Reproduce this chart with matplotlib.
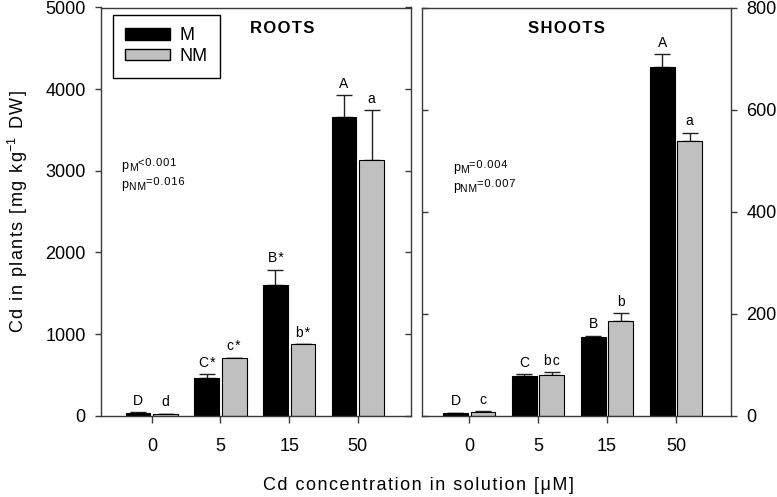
import matplotlib
matplotlib.use("Agg")
import matplotlib.pyplot as plt
import numpy as np
from matplotlib.patches import Patch

plt.rcParams['font.family'] = ['Liberation Sans', 'DejaVu Sans']
plt.rcParams['mathtext.fontset'] = 'custom'
plt.rcParams['mathtext.rm'] = 'Liberation Sans'
plt.rcParams['mathtext.it'] = 'Liberation Sans:italic'
plt.rcParams['mathtext.bf'] = 'Liberation Sans:bold'

categories = ['0', '5', '15', '50']

roots_M = [33, 465, 1600, 3660]
roots_M_err = [10, 45, 190, 270]
roots_NM = [20, 703, 874, 3126]
roots_NM_err = [6, 8, 8, 615]
roots_M_labels = ['D', 'C*', 'B*', 'A']
roots_NM_labels = ['d', 'c*', 'b*', 'a']

shoots_M = [5, 78, 155, 684]
shoots_M_err = [1, 4, 2, 25]
shoots_NM = [7, 79, 185, 538]
shoots_NM_err = [1.5, 7, 16, 17]
shoots_M_labels = ['D', 'C', 'B', 'A']
shoots_NM_labels = ['c', 'bc', 'b', 'a']

roots_p = [('M', '<0.001'), ('NM', '=0.016')]
shoots_p = [('M', '=0.004'), ('NM', '=0.007')]

HAIR = '\u200a'


def spaced(s, sep=HAIR):
    return sep.join(s)


W, H = 777, 497
fig = plt.figure(figsize=(W / 100, H / 100), dpi=100)


def ax_at(x0, x1, y0, y1):
    return fig.add_axes([x0 / W, 1 - y1 / H, (x1 - x0) / W, (y1 - y0) / H])


axL = ax_at(101, 410.7, 7.5, 415.7)
axR = ax_at(421.7, 731, 7.5, 415.7)

spine_col = '#3a3a3a'
grey = '#c0c0c0'
bw = 0.36
off = 0.2
x = np.arange(len(categories))


def draw(ax, M, Me, NM, NMe, Ml, NMl):
    ax.bar(x - off, M, bw, color='black', edgecolor='black', linewidth=0.8, zorder=2)
    ax.bar(x + off, NM, bw, color=grey, edgecolor='black', linewidth=0.8, zorder=2)
    ax.errorbar(x - off, M, yerr=[np.zeros(len(M)), Me], fmt='none', ecolor='#222222',
                elinewidth=1.0, capsize=5.5, capthick=1.0, zorder=1)
    ax.errorbar(x + off, NM, yerr=[np.zeros(len(NM)), NMe], fmt='none', ecolor='#222222',
                elinewidth=1.0, capsize=5.5, capthick=1.0, zorder=1)
    for i in range(len(M)):
        ax.annotate(spaced(Ml[i]), (x[i] - off, M[i] + Me[i]), xytext=(0, 3),
                    textcoords='offset points', ha='center', va='bottom', fontsize=10)
        ax.annotate(spaced(NMl[i]), (x[i] + off, NM[i] + NMe[i]), xytext=(0, 3),
                    textcoords='offset points', ha='center', va='bottom', fontsize=10)
    for s in ax.spines.values():
        s.set_color(spine_col)
        s.set_linewidth(1.0)
    ax.set_xticks(x)
    ax.set_xticklabels(categories)
    ax.tick_params(axis='x', direction='out', length=5, width=1, color=spine_col,
                   labelsize=13, pad=11)


draw(axL, roots_M, roots_M_err, roots_NM, roots_NM_err, roots_M_labels, roots_NM_labels)
draw(axR, shoots_M, shoots_M_err, shoots_NM, shoots_NM_err, shoots_M_labels, shoots_NM_labels)

axL.set_xlim(-0.74, 3.77)
axL.set_ylim(0, 5000)
axL.set_yticks(np.arange(0, 5001, 1000))
axL.yaxis.set_ticks_position('both')
axL.tick_params(axis='y', direction='out', length=4, width=1, color=spine_col,
                labelsize=13, pad=7)
for t in axL.yaxis.get_major_ticks():
    t.tick2line.set_marker(matplotlib.lines.TICKLEFT)
    t.tick2line.set_markersize(4)

axR.set_xlim(-0.69, 3.80)
axR.set_ylim(0, 800)
axR.set_yticks(np.arange(0, 801, 200))
axR.yaxis.set_ticks_position('both')
axR.tick_params(axis='y', labelleft=False, labelright=True, direction='out', length=4,
                width=1, color=spine_col, labelsize=13, pad=7)
for t in axR.yaxis.get_major_ticks():
    t.tick1line.set_marker(matplotlib.lines.TICKRIGHT)
    t.tick1line.set_markersize(4)

axL.text(0.586, 0.949, spaced('ROOTS'), transform=axL.transAxes,
         ha='center', va='center', fontsize=12, fontweight='bold')
axR.text(0.469, 0.949, spaced('SHOOTS'), transform=axR.transAxes,
         ha='center', va='center', fontsize=12, fontweight='bold')

renderer = fig.canvas.get_renderer()


def ptext(x_px, base_px, sub, rest):
    # 'p' with subscript group name, followed by the value, placed in pixel coords
    t = fig.text(x_px / W, 1 - base_px / H, 'p', fontsize=9, va='baseline', ha='left')
    x1 = t.get_window_extent(renderer).x1
    t2 = fig.text((x1 + 0.3) / W, 1 - (base_px + 2.2) / H, spaced(sub), fontsize=7.5,
                  va='baseline', ha='left')
    x2 = t2.get_window_extent(renderer).x1
    fig.text((x2 + 0.3) / W, 1 - (base_px - 3.0) / H, spaced(rest), fontsize=8,
             va='baseline', ha='left')


for j, (sub, rest) in enumerate(roots_p):
    ptext(121.5, 168.5 + 19.5 * j, sub, rest)
for j, (sub, rest) in enumerate(shoots_p):
    ptext(452.7, 170.7 + 19.5 * j, sub, rest)

leg = axL.legend(handles=[Patch(facecolor='black', edgecolor='black', label='M'),
                          Patch(facecolor=grey, edgecolor='black', label='NM')],
                 loc='upper left', bbox_to_anchor=(0.038, 0.982), borderaxespad=0,
                 fontsize=13, handlelength=2.45, handleheight=0.6, handletextpad=0.55,
                 fancybox=False, edgecolor='black', framealpha=1, borderpad=0.7,
                 labelspacing=0.2)
leg.get_frame().set_linewidth(1.0)

fig.text(17.5 / W, 1 - 212 / H,
         spaced('Cd in plants [mg kg') + '$^{-1}$' + HAIR + spaced(' DW]'),
         rotation=90, ha='center', va='center', fontsize=13)
fig.text(418 / W, 1 - 486 / H, spaced('Cd concentration in solution [\u03bcM]'),
         ha='center', va='center', fontsize=13)

fig.savefig('out.png', dpi=100)
